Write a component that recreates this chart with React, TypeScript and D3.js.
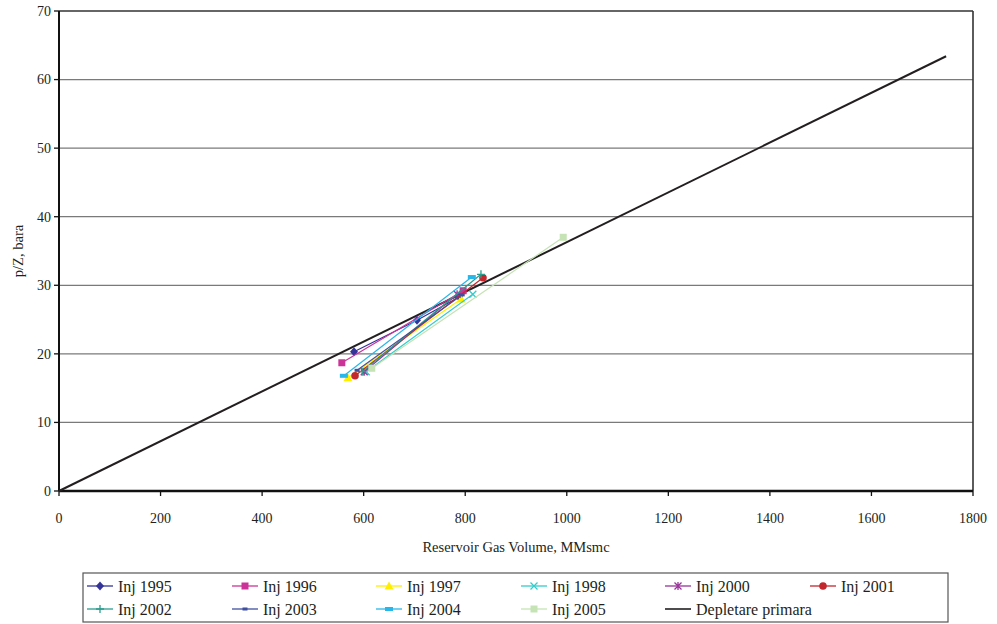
import React from "react";
import * as d3 from "d3";

const seriesNames = ["Inj 1995", "Inj 1996", "Inj 1997", "Inj 1998", "Inj 2000", "Inj 2001", "Inj 2002", "Inj 2003", "Inj 2004", "Inj 2005"];
const inj1995 = [[581, 20.3], [705, 24.9], [788, 28.3]];
const inj1996 = [[557, 18.7], [796, 29.2]];
const inj1997 = [[569, 16.5], [792, 28.0]];
const inj1998 = [[605, 17.4], [815, 28.7]];
const inj2000 = [[601, 17.4], [784, 28.7]];
const inj2001 = [[583, 16.8], [835, 31.1]];
const inj2002 = [[597, 17.4], [831, 31.6]];
const inj2003 = [[587, 17.6], [794, 28.6]];
const inj2004 = [[561, 16.8], [813, 31.2]];
const inj2005 = [[616, 17.9], [993, 37.0]];
const depletion = [[0, 0], [1747, 63.4]];
const xTicks = [0, 200, 400, 600, 800, 1000, 1200, 1400, 1600, 1800];
const yTicks = [0, 10, 20, 30, 40, 50, 60, 70];

const seriesData = [inj1995, inj1996, inj1997, inj1998, inj2000, inj2001, inj2002, inj2003, inj2004, inj2005];
const colors = ["#333399", "#CC3399", "#FFEE00", "#33CCCC", "#993399", "#C1272D", "#2A9D8F", "#3F4FA0", "#29B6E8", "#C5E3B5"];
const markers = ["diamond", "square", "triangle", "x", "asterisk", "circle", "plus", "dash", "bar", "square"];

const W = 997, H = 624;
const L = 59, R = 973, T = 11, B = 491;
const FONT = "Liberation Serif, DejaVu Serif, serif";

function Marker({ type, x, y, c }: { type: string; x: number; y: number; c: string }) {
  switch (type) {
    case "diamond":
      return <path d={`M${x},${y - 4.5}L${x + 4},${y}L${x},${y + 4.5}L${x - 4},${y}Z`} fill={c} />;
    case "square":
      return <rect x={x - 3.5} y={y - 3.5} width={7} height={7} fill={c} />;
    case "triangle":
      return <path d={`M${x},${y - 4.5}L${x + 4.5},${y + 3.5}L${x - 4.5},${y + 3.5}Z`} fill={c} />;
    case "x":
      return <path d={`M${x - 3.5},${y - 3.5}L${x + 3.5},${y + 3.5}M${x - 3.5},${y + 3.5}L${x + 3.5},${y - 3.5}`} stroke={c} strokeWidth={1.3} />;
    case "asterisk":
      return <path d={`M${x - 3.5},${y - 3.5}L${x + 3.5},${y + 3.5}M${x - 3.5},${y + 3.5}L${x + 3.5},${y - 3.5}M${x},${y - 4}L${x},${y + 4}`} stroke={c} strokeWidth={1.3} />;
    case "circle":
      return <circle cx={x} cy={y} r={3.8} fill={c} />;
    case "plus":
      return <path d={`M${x - 4},${y}L${x + 4},${y}M${x},${y - 4}L${x},${y + 4}`} stroke={c} strokeWidth={1.3} />;
    case "dash":
      return <rect x={x - 2.5} y={y - 1.5} width={5} height={3} fill={c} />;
    case "bar":
      return <rect x={x - 4} y={y - 2} width={8} height={4} fill={c} />;
    default:
      return null;
  }
}

export default function App() {
  const x = d3.scaleLinear().domain([0, 1800]).range([L, R]);
  const y = d3.scaleLinear().domain([0, 70]).range([B, T]);
  const line = d3.line<number[]>().x(d => x(d[0])).y(d => y(d[1]));

  const legendItems = [...seriesNames.map((n, i) => ({ name: n, color: colors[i], marker: markers[i] })), { name: "Depletare primara", color: "#231F20", marker: "none" }];
  const colX = [87, 232, 376, 521, 665, 810];
  const rowY = [586, 609];

  return (
    <svg width={W} height={H} style={{ position: "absolute", left: 0, top: 0, fontFamily: FONT }}>
      <rect width={W} height={H} fill="#fff" />
      {yTicks.filter(t => t > 0 && t < 70).map(t => (
        <line key={t} x1={L} x2={R} y1={y(t)} y2={y(t)} stroke="#7a7a7a" strokeWidth={1.3} />
      ))}
      <line x1={L} x2={R} y1={T} y2={T} stroke="#333" strokeWidth={1.3} />
      <line x1={R} x2={R} y1={T} y2={B} stroke="#333" strokeWidth={1.6} />
      <line x1={L} x2={L} y1={T} y2={B} stroke="#111" strokeWidth={2} />
      <line x1={L} x2={R} y1={B} y2={B} stroke="#111" strokeWidth={2.5} />
      {yTicks.map(t => (
        <g key={t}>
          <line x1={L - 5} x2={L} y1={y(t)} y2={y(t)} stroke="#111" strokeWidth={1.3} />
          <text x={L - 8} y={y(t)} dy="0.35em" textAnchor="end" fontSize={14} fill="#231F20">{t}</text>
        </g>
      ))}
      {xTicks.map(t => (
        <g key={t}>
          <line x1={x(t)} x2={x(t)} y1={B} y2={B + 5} stroke="#111" strokeWidth={1.3} />
          <text x={x(t)} y={518} dy="0.35em" textAnchor="middle" fontSize={14} fill="#231F20">{t}</text>
        </g>
      ))}
      <text x={(L + R) / 2} y={547} dy="0.35em" textAnchor="middle" fontSize={14.5} fill="#231F20">Reservoir Gas Volume, MMsmc</text>
      <text transform={`translate(18,${(T + B) / 2}) rotate(-90)`} dy="0.35em" textAnchor="middle" fontSize={14.5} fill="#231F20">p/Z, bara</text>
      <path d={line(depletion as any) || ""} stroke="#231F20" strokeWidth={2} fill="none" />
      {seriesData.map((s, i) => (
        <g key={i}>
          <path d={line(s as any) || ""} stroke={colors[i]} strokeWidth={1.2} fill="none" />
          {s.map((p, j) => <Marker key={j} type={markers[i]} x={x(p[0])} y={y(p[1])} c={colors[i]} />)}
        </g>
      ))}
      <rect x={83} y={573} width={865} height={49} fill="#fff" stroke="#555" strokeWidth={1.2} />
      {legendItems.map((it, i) => {
        const cx = colX[i % 6];
        const cy = rowY[Math.floor(i / 6)];
        return (
          <g key={it.name}>
            <line x1={cx} x2={cx + 26} y1={cy} y2={cy} stroke={it.color} strokeWidth={it.marker === "none" ? 1.6 : 1.3} />
            {it.marker !== "none" && <Marker type={it.marker} x={cx + 13} y={cy} c={it.color} />}
            <text x={cx + 31} y={cy} dy="0.35em" fontSize={16} fill="#231F20">{it.name}</text>
          </g>
        );
      })}
    </svg>
  );
}
